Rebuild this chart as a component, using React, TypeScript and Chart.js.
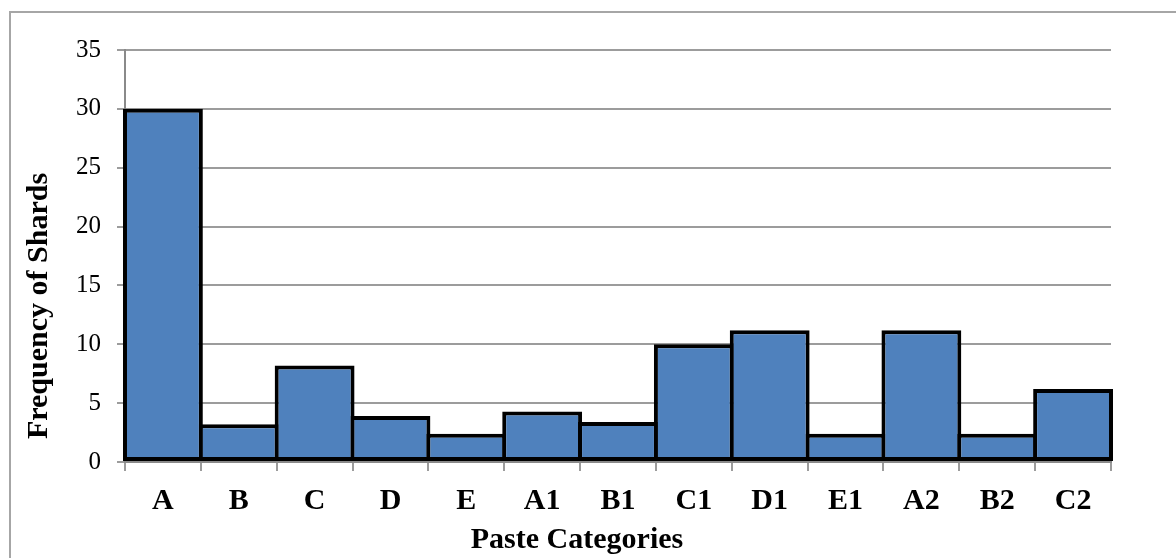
import React, { useEffect, useRef } from "react";
import { Chart, registerables } from "chart.js";

Chart.register(...registerables);

// Paste categories and how many shards fall into each
const categories = ["A", "B", "C", "D", "E", "A1", "B1", "C1", "D1", "E1", "A2", "B2", "C2"];
const shardCounts = [30, 3.2, 8.2, 3.9, 2.4, 4.3, 3.4, 10, 11.2, 2.4, 11.2, 2.4, 6.2];

// Value axis range
const yAxisMin = 0;
const yAxisMax = 35;
const yAxisStep = 5;

const xAxisTitle = "Paste Categories";
const yAxisTitle = "Frequency of Shards";

const SERIF = '"Liberation Serif", "Times New Roman", serif';
const GRID = "#9c9c9c";
const AXIS = "#8a8a8a";

// Draws the two axis captions in the positions used by the original layout
const axisCaptions = {
  id: "axisCaptions",
  afterDraw(chart: any) {
    const { ctx, chartArea } = chart;
    ctx.save();
    ctx.fillStyle = "#000";
    ctx.font = `bold 30px ${SERIF}`;
    ctx.textAlign = "center";
    ctx.textBaseline = "alphabetic";
    ctx.fillText(xAxisTitle, chartArea.left + 452, chartArea.bottom + 86);
    ctx.translate(47, chartArea.top + 256);
    ctx.rotate(-Math.PI / 2);
    ctx.fillText(yAxisTitle, 0, 0);
    ctx.restore();
  },
};

export default function App() {
  const canvasRef = useRef<HTMLCanvasElement | null>(null);

  useEffect(() => {
    const canvas = canvasRef.current;
    if (!canvas) return;
    const chart = new Chart(canvas, {
      type: "bar",
      data: {
        labels: categories,
        datasets: [
          {
            data: shardCounts,
            backgroundColor: "#4f81bd",
            borderColor: "#000000",
            borderWidth: 4,
            borderSkipped: false,
            categoryPercentage: 1,
            // slight overlap so neighbouring outlines share one line
            barPercentage: 1.053,
            clip: false as any,
          },
        ],
      },
      options: {
        responsive: false,
        animation: false,
        devicePixelRatio: 1,
        layout: { padding: { left: 65, right: 65, top: 50, bottom: 0 } },
        plugins: {
          legend: { display: false },
          tooltip: { enabled: false },
          title: { display: false },
        },
        scales: {
          x: {
            offset: true,
            grid: {
              display: true,
              offset: true,
              drawOnChartArea: false,
              drawTicks: true,
              tickLength: 9,
              color: GRID,
              lineWidth: 2,
            },
            border: { display: true, color: AXIS, width: 2 },
            ticks: {
              color: "#000",
              padding: 12,
              font: { family: SERIF, size: 30, weight: "bold" },
              maxRotation: 0,
              autoSkip: false,
            },
            afterFit(scale: any) {
              scale.height = 96;
            },
          },
          y: {
            min: yAxisMin,
            max: yAxisMax,
            grid: {
              display: true,
              drawTicks: true,
              tickLength: 8,
              color: GRID,
              lineWidth: 2,
            },
            border: { display: true, color: AXIS, width: 2 },
            ticks: {
              stepSize: yAxisStep,
              color: "#000",
              padding: 16,
              font: { family: SERIF, size: 25 },
            },
            afterFit(scale: any) {
              scale.width = 60;
            },
          },
        },
      },
      plugins: [axisCaptions],
    });
    return () => chart.destroy();
  }, []);

  return (
    <div
      style={{
        position: "fixed",
        left: 0,
        top: 0,
        width: 1176,
        height: 558,
        overflow: "hidden",
        background: "#fff",
      }}
    >
      <div
        style={{
          position: "absolute",
          left: 9,
          top: 11,
          width: 1300,
          height: 700,
          border: "2px solid #a6a6a6",
        }}
      />
      <canvas
        ref={canvasRef}
        width={1176}
        height={558}
        style={{ position: "absolute", left: 0, top: 0, width: 1176, height: 558 }}
      />
    </div>
  );
}
